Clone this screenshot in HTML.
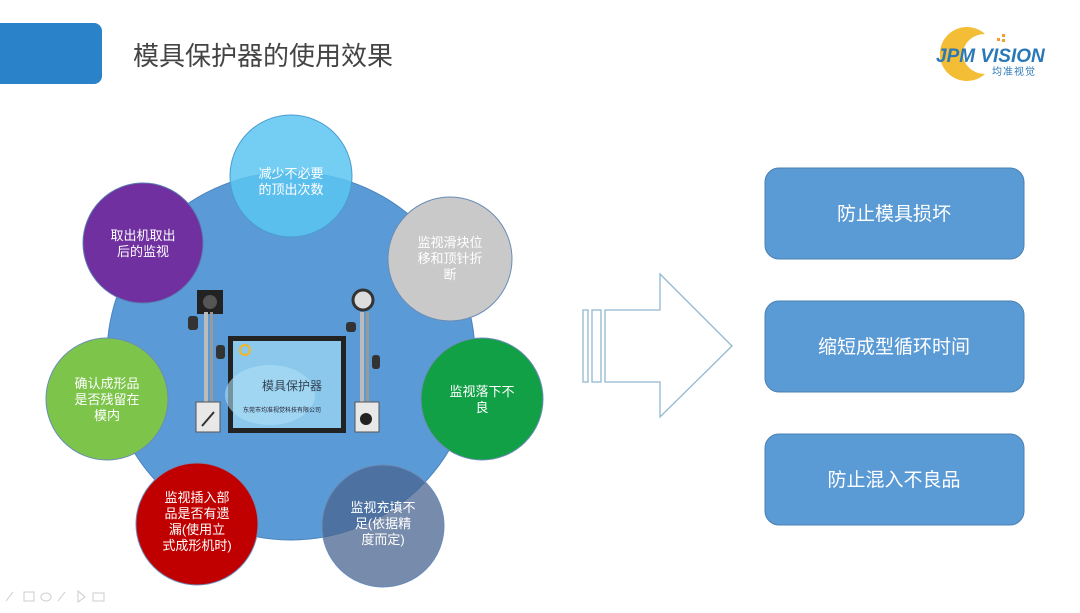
<!DOCTYPE html>
<html><head><meta charset="utf-8"><style>
body{margin:0;width:1080px;height:608px;overflow:hidden;background:#fff;font-family:"Liberation Sans","Noto Sans CJK SC",sans-serif;}
</style></head><body>
<svg width="1080" height="608" viewBox="0 0 1080 608" xmlns="http://www.w3.org/2000/svg" font-family="'Liberation Sans','Noto Sans CJK SC',sans-serif">
<path d="M0 23 H94 a8 8 0 0 1 8 8 V76 a8 8 0 0 1 -8 8 H0 Z" fill="#2a82c8"/>
<text x="133" y="65" font-size="26" fill="#444">模具保护器的使用效果</text>
<!-- logo crescent -->
<path d="M985 34 A27 27 0 1 0 985 74 A22 20 0 1 1 985 34 Z" fill="#f2b61f" opacity="0.9"/>
<rect x="997" y="38" width="3" height="3" fill="#f0a030"/><rect x="1002" y="34" width="3" height="3" fill="#f0a030"/><rect x="1002" y="39" width="3" height="3" fill="#f0a030"/>
<text x="936" y="62" font-size="19" font-weight="bold" font-style="italic" fill="#2a78b8">JPM VISION</text>
<text x="992" y="75" font-size="10" fill="#2a78b8" letter-spacing="1">均准视觉</text>
<!-- big circle -->
<circle cx="291" cy="356" r="184" fill="#5a9ad6" stroke="#4b84bd" stroke-width="1"/>
<!-- equipment -->
<g>
<rect x="197" y="290" width="26" height="24" fill="#222"/><circle cx="210" cy="302" r="7" fill="#555"/>
<rect x="204" y="312" width="4" height="100" fill="#bbb"/><rect x="210" y="312" width="3" height="100" fill="#999"/>
<rect x="188" y="316" width="10" height="14" rx="3" fill="#333"/><rect x="216" y="345" width="9" height="14" rx="3" fill="#333"/>
<rect x="196" y="402" width="24" height="30" fill="#e8e8e8" stroke="#555"/><line x1="202" y1="426" x2="214" y2="412" stroke="#333" stroke-width="2"/>
<circle cx="363" cy="300" r="10" fill="#ddd" stroke="#333" stroke-width="3"/>
<rect x="360" y="312" width="4" height="100" fill="#bbb"/><rect x="366" y="312" width="3" height="100" fill="#999"/>
<rect x="346" y="322" width="10" height="10" rx="3" fill="#333"/><rect x="372" y="355" width="8" height="14" rx="3" fill="#333"/>
<rect x="355" y="402" width="24" height="30" fill="#e8e8e8" stroke="#555"/><circle cx="366" cy="419" r="6" fill="#222"/>
<rect x="228" y="336" width="118" height="97" fill="#222"/>
<rect x="233" y="341" width="108" height="87" fill="#8cc8ec"/>
<ellipse cx="270" cy="395" rx="45" ry="30" fill="#aee0f6" opacity="0.6"/>
<circle cx="245" cy="350" r="5" fill="none" stroke="#f2b61f" stroke-width="2"/>
<text x="262" y="390" font-size="12" fill="#345">模具保护器</text>
<text x="243" y="412" font-size="6" fill="#223">东莞市均准视觉科技有限公司</text>
</g>
<!-- small circles -->
<g stroke-width="1">
<circle cx="291" cy="176" r="61" fill="#5cc6f2" fill-opacity="0.85" stroke="#4a9cd0"/>
<circle cx="143" cy="243" r="60" fill="#7030a0" stroke="#5a7bb0"/>
<circle cx="450" cy="259" r="62" fill="#c9c9c9" stroke="#6a8cb8"/>
<circle cx="107" cy="399" r="61" fill="#7cc44a" stroke="#6a8cb8"/>
<circle cx="482" cy="399" r="61" fill="#11a046" stroke="#6a8cb8"/>
<circle cx="197" cy="524" r="61" fill="#c00000" stroke="#6a8cb8"/>
<circle cx="383" cy="526" r="61" fill="#4a6490" fill-opacity="0.75" stroke="#6a8cb8"/>
</g>
<g font-size="13" fill="#fff" text-anchor="middle">
<text x="291" y="178">减少不必要</text><text x="291" y="194">的顶出次数</text>
<text x="143" y="240">取出机取出</text><text x="143" y="256">后的监视</text>
<text x="450" y="247">监视滑块位</text><text x="450" y="263">移和顶针折</text><text x="450" y="279">断</text>
<text x="107" y="388">确认成形品</text><text x="107" y="404">是否残留在</text><text x="107" y="420">模内</text>
<text x="482" y="396">监视落下不</text><text x="482" y="412">良</text>
<text x="197" y="502">监视插入部</text><text x="197" y="518">品是否有遗</text><text x="197" y="534">漏(使用立</text><text x="197" y="550">式成形机时)</text>
<text x="383" y="512">监视充填不</text><text x="383" y="528">足(依据精</text><text x="383" y="544">度而定)</text>
</g>
<!-- arrow -->
<g fill="none" stroke="#92b8d0" stroke-width="1.3">
<rect x="583" y="310" width="5" height="72"/><rect x="592" y="310" width="9" height="72"/>
<path d="M605 310 H660 V274 L732 346 L660 417 V382 H605 Z"/>
</g>
<!-- boxes -->
<g fill="#5b9bd5" stroke="#4a80b4" stroke-width="1">
<rect x="765" y="168" width="259" height="91" rx="14"/>
<rect x="765" y="301" width="259" height="91" rx="14"/>
<rect x="765" y="434" width="259" height="91" rx="14"/>
</g>
<g font-size="19" fill="#fff" text-anchor="middle">
<text x="894" y="220">防止模具损坏</text>
<text x="894" y="353">缩短成型循环时间</text>
<text x="894" y="486">防止混入不良品</text>
</g>
<g fill="none" stroke="#ccc" stroke-width="1">
<path d="M6 601 L13 592"/><rect x="24" y="592" width="10" height="9"/><ellipse cx="46" cy="597" rx="5" ry="4"/><path d="M58 601 L65 592"/><path d="M78 591 V602 L85 597 Z"/><rect x="93" y="593" width="11" height="8"/>
</g>
</svg>
</body></html>
